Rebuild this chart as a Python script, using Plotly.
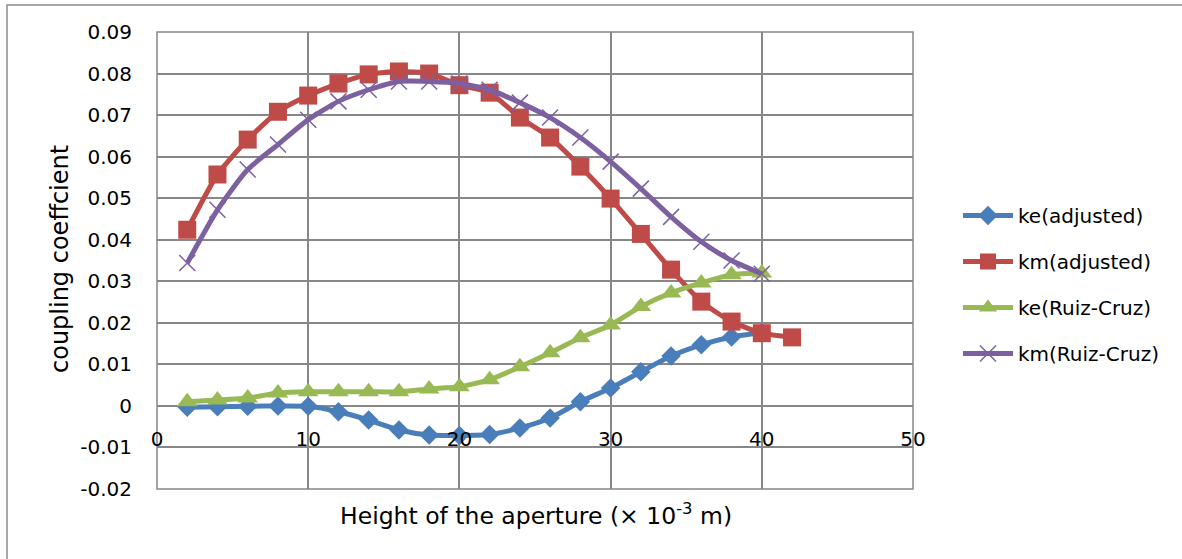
import plotly.graph_objects as go

# ---- data ----
x_ke_adj = [2, 4, 6, 8, 10, 12, 14, 16, 18, 20, 22, 24, 26, 28, 30, 32, 34, 36, 38, 40]
ke_adj = [-0.0003, -0.0002, -0.0001, 0.0, -0.0001, -0.0014, -0.0034, -0.0058, -0.0070, -0.0071,
          -0.0069, -0.0053, -0.0029, 0.0010, 0.0043, 0.0082, 0.0120, 0.0147, 0.0166, 0.0176]

x_km_adj = [2, 4, 6, 8, 10, 12, 14, 16, 18, 20, 22, 24, 26, 28, 30, 32, 34, 36, 38, 40, 42]
km_adj = [0.0424, 0.0557, 0.0641, 0.0708, 0.0747, 0.0776, 0.0798, 0.0805, 0.0800, 0.0772,
          0.0754, 0.0694, 0.0646, 0.0576, 0.0499, 0.0414, 0.0328, 0.0251, 0.0203, 0.0175, 0.0165]

x_ke_rc = [2, 4, 6, 8, 10, 12, 14, 16, 18, 20, 22, 24, 26, 28, 30, 32, 34, 36, 38, 40]
ke_rc = [0.0010, 0.0014, 0.0019, 0.0031, 0.0034, 0.0034, 0.0034, 0.0034, 0.0041, 0.0046,
         0.0063, 0.0094, 0.0128, 0.0164, 0.0195, 0.0239, 0.0272, 0.0296, 0.0316, 0.0320]

x_km_rc = [2, 4, 6, 8, 10, 12, 14, 16, 18, 20, 22, 24, 26, 28, 30, 32, 34, 36, 38, 40]
km_rc = [0.0344, 0.0472, 0.0569, 0.0629, 0.0689, 0.0733, 0.0761, 0.0781, 0.0781, 0.0776,
         0.0761, 0.0730, 0.0694, 0.0646, 0.0588, 0.0523, 0.0455, 0.0395, 0.0350, 0.0318]

series_names = ["ke(adjusted)", "km(adjusted)", "ke(Ruiz-Cruz)", "km(Ruiz-Cruz)"]

x_tickvals = [0, 10, 20, 30, 40, 50]
x_ticktext = ["0", "10", "20", "30", "40", "50"]
y_tickvals = [-0.02, -0.01, 0, 0.01, 0.02, 0.03, 0.04, 0.05, 0.06, 0.07, 0.08, 0.09]
y_ticktext = ["-0.02", "-0.01", "0", "0.01", "0.02", "0.03", "0.04", "0.05", "0.06", "0.07", "0.08", "0.09"]

x_title = "Height of the aperture (× 10<sup>-3</sup> m)"
y_title = "coupling coeffcient"

# ---- figure ----
W, H = 1182, 559
L, R, T, B = 157, 269, 32, 70
PW, PH = W - L - R, H - T - B
FONT = "DejaVu Sans"
GRID = "#878787"

def px_x(px):
    return (px - L) / PW

def px_y(py):
    return 1 - (py - T) / PH

fig = go.Figure()
fig.add_trace(go.Scatter(x=x_ke_adj, y=ke_adj, name=series_names[0], mode="lines+markers",
                         line=dict(color="#4A7EBB", width=5, shape="spline", smoothing=0.6),
                         marker=dict(symbol="diamond", size=15, color="#4A7EBB"),
                         legendgroup="a"))
fig.add_trace(go.Scatter(x=x_km_adj, y=km_adj, name=series_names[1], mode="lines+markers",
                         line=dict(color="#BE4B48", width=5, shape="spline", smoothing=0.6),
                         marker=dict(symbol="square", size=18, color="#BE4B48"),
                         legendgroup="b"))
fig.add_trace(go.Scatter(x=x_ke_rc, y=ke_rc, name=series_names[2], mode="lines+markers",
                         line=dict(color="#98B954", width=5, shape="spline", smoothing=0.6),
                         marker=dict(symbol="triangle-up", size=18, color="#98B954"),
                         legendgroup="c"))
fig.add_trace(go.Scatter(x=x_km_rc, y=km_rc, name=series_names[3], mode="lines+markers",
                         line=dict(color="#7D60A0", width=5, shape="spline", smoothing=0.6),
                         marker=dict(symbol="x-thin", size=16, color="#7D60A0",
                                     line=dict(color="#7D60A0", width=1.5)),
                         legendgroup="d"))

fig.update_layout(
    width=W, height=H,
    margin=dict(l=L, r=R, t=T, b=B, autoexpand=False),
    paper_bgcolor="white", plot_bgcolor="white",
    font=dict(family=FONT, size=20, color="black"),
    showlegend=True,
    legend=dict(x=px_x(958), y=px_y(196), xanchor="left", yanchor="top",
                font=dict(family=FONT, size=20, color="black"),
                tracegroupgap=17, bgcolor="rgba(0,0,0,0)", itemwidth=50),
    xaxis=dict(range=[0, 50], tickvals=x_tickvals, ticktext=x_ticktext,
               showgrid=True, gridcolor=GRID, gridwidth=1.5, zeroline=False,
               showline=False, anchor="free", position=0.02 / 0.11,
               ticks="", ticklabelstandoff=19,
               tickfont=dict(family=FONT, size=20, color="black")),
    yaxis=dict(range=[-0.02, 0.09], tickvals=y_tickvals, ticktext=y_ticktext,
               showgrid=True, gridcolor=GRID, gridwidth=1.5, zeroline=False,
               showline=False, ticks="", ticklabelstandoff=24,
               tickfont=dict(family=FONT, size=20, color="black")),
    shapes=[
        dict(type="rect", xref="paper", yref="paper", x0=0, x1=1, y0=0, y1=1,
             line=dict(color=GRID, width=1.5), fillcolor="rgba(0,0,0,0)", layer="below"),
        dict(type="rect", xref="paper", yref="paper", x0=px_x(7), x1=px_x(1300),
             y0=px_y(700), y1=px_y(5),
             line=dict(color="#8c8c8c", width=1.5), fillcolor="rgba(0,0,0,0)"),
    ],
    annotations=[
        dict(text=x_title, xref="paper", yref="paper", x=px_x(536), y=px_y(514),
             xanchor="center", yanchor="middle", showarrow=False,
             font=dict(family=FONT, size=23.5, color="black")),
        dict(text=y_title, xref="paper", yref="paper", x=px_x(60), y=px_y(259),
             xanchor="center", yanchor="middle", showarrow=False, textangle=-90,
             font=dict(family=FONT, size=24, color="black")),
    ],
)

fig.write_html("out.html", config={"displayModeBar": False},
               post_script="document.body.style.margin='0';document.body.style.overflow='hidden';")
